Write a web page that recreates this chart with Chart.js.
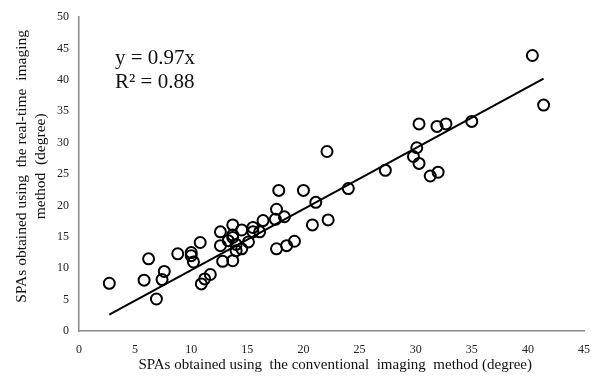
<!DOCTYPE html>
<html>
<head>
<meta charset="utf-8">
<script src="https://cdn.jsdelivr.net/npm/chart.js@4/dist/chart.umd.min.js"></script>
<style>
  html, body { margin: 0; padding: 0; background: #fff; }
  #wrap { position: relative; width: 605px; height: 378px; }
</style>
</head>
<body>
<div id="wrap"><canvas id="c" width="605" height="378"></canvas></div>
<script>
// Conventional imaging method SPA (x) vs real-time imaging method SPA (y), degrees
const conventionalSPA = [2.7, 5.8, 6.2, 6.9, 7.4, 7.6, 8.8, 10.0, 10.0, 10.2, 10.8, 10.9, 11.2, 11.7,
  12.6, 12.6, 12.8, 13.3, 13.7, 13.7, 13.7, 13.7, 14.0, 14.0, 14.5, 14.5, 15.1, 15.5, 15.5, 16.1,
  16.4, 17.5, 17.6, 17.6, 17.8, 18.3, 18.5, 19.2, 20.0, 20.8, 21.1, 22.1, 22.2, 24.0, 27.3, 29.8,
  30.1, 30.3, 30.3, 31.3, 32.0, 31.9, 32.7, 35.0, 40.4, 41.4];
const realtimeSPA = [7.6, 8.1, 11.5, 5.1, 8.2, 9.5, 12.3, 12.5, 12.0, 11.0, 14.1, 7.5, 8.3, 9.0,
  15.8, 13.6, 11.1, 14.4, 16.9, 15.3, 14.9, 11.2, 12.8, 13.8, 16.1, 13.1, 14.2, 16.5, 15.8, 15.8,
  17.6, 17.8, 19.4, 13.1, 22.4, 18.2, 13.6, 14.3, 22.4, 16.9, 20.5, 28.6, 17.7, 22.7, 25.6, 27.8,
  29.2, 26.7, 33.0, 24.7, 25.3, 32.6, 33.0, 33.4, 43.9, 36.0];
// Linear trend line (y = 0.97x) end points
const trendX = [2.7, 41.4];
const trendY = [2.6, 40.2];
const xTicks = [0, 5, 10, 15, 20, 25, 30, 35, 40, 45];
const yTicks = [0, 5, 10, 15, 20, 25, 30, 35, 40, 45, 50];
const equationLines = ['y = 0.97x', 'R\u00B2 = 0.88'];
const xTitle = '  SPAs obtained using  the conventional  imaging  method (degree)';
const yTitle = ['    SPAs obtained using  the real-time  imaging', '    method  (degree)'];

const serif = "'Liberation Serif', 'DejaVu Serif', serif";

const equationPlugin = {
  id: 'equation',
  afterDatasetsDraw(chart) {
    const ctx = chart.ctx;
    ctx.save();
    ctx.fillStyle = '#111';
    ctx.font = "21px " + serif;
    ctx.textAlign = 'left';
    ctx.textBaseline = 'alphabetic';
    ctx.fillText(equationLines[0], 115, 64);
    ctx.fillText(equationLines[1], 115, 88);
    ctx.restore();
  }
};

new Chart(document.getElementById('c'), {
  type: 'scatter',
  data: {
    datasets: [
      {
        data: conventionalSPA.map((x, i) => ({ x: x, y: realtimeSPA[i] })),
        pointRadius: 5.5,
        pointHoverRadius: 5.5,
        pointBorderWidth: 2,
        borderColor: '#000',
        backgroundColor: 'rgba(0,0,0,0)',
        order: 1
      },
      {
        type: 'line',
        data: trendX.map((x, i) => ({ x: x, y: trendY[i] })),
        borderColor: '#000',
        borderWidth: 2,
        pointRadius: 0,
        fill: false,
        order: 2
      }
    ]
  },
  options: {
    responsive: false,
    animation: false,
    layout: { padding: { top: 15, right: 21, left: 0, bottom: 0 } },
    plugins: { legend: { display: false }, tooltip: { enabled: false } },
    scales: {
      x: {
        type: 'linear',
        min: 0, max: 45,
        afterBuildTicks: (s) => { s.ticks = xTicks.map(v => ({ value: v })); },
        afterFit: (s) => { s.height = 47; },
        grid: { display: false, drawTicks: false },
        border: { display: true, color: '#8a8a8a', width: 1.5 },
        ticks: { color: '#222', font: { family: serif, size: 12 }, padding: 12, maxRotation: 0 },
        title: {
          display: true, text: xTitle, color: '#111',
          font: { family: serif, size: 15, lineHeight: 1.2 }, padding: { top: 0, bottom: 4 }
        }
      },
      y: {
        type: 'linear',
        min: 0, max: 50,
        afterBuildTicks: (s) => { s.ticks = yTicks.map(v => ({ value: v })); },
        afterFit: (s) => { s.width = 79; },
        grid: { display: false, drawTicks: false },
        border: { display: true, color: '#8a8a8a', width: 1.5 },
        ticks: { color: '#222', font: { family: serif, size: 12 }, padding: 10 },
        title: {
          display: true, text: yTitle, color: '#111',
          font: { family: serif, size: 15.5, lineHeight: 1.18 }, padding: { top: 13, bottom: 0 }
        }
      }
    }
  },
  plugins: [equationPlugin]
});
</script>
</body>
</html>
